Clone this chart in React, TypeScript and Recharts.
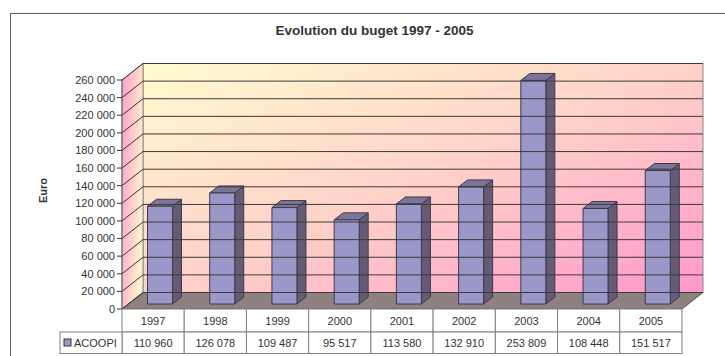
import React from 'react';
import { BarChart, Bar, XAxis, YAxis, ReferenceArea, ReferenceLine } from 'recharts';

const title = 'Evolution du buget 1997 - 2005';
const yLabel = 'Euro';
const seriesName = 'ACOOPI';
const years = ['1997', '1998', '1999', '2000', '2001', '2002', '2003', '2004', '2005'];
const acoopi = [110960, 126078, 109487, 95517, 113580, 132910, 253809, 108448, 151517];
const yTicks = [0, 20000, 40000, 60000, 80000, 100000, 120000, 140000, 160000, 180000, 200000, 220000, 240000, 260000];

const data = years.map((year, i) => ({ year, value: acoopi[i] }));

const W = 725;
const H = 356;
const LEFT = 122;
const RIGHT = 43;
const TOP = 80;
const XAXIS_H = 47;
const COL_W = (W - LEFT - RIGHT) / years.length;
const DEPTH_X = 21;
const DEPTH_Y = -16.5;
const BAR_OFF_X = 6.5;
const BAR_OFF_Y = -5;
const BAR_DX = 9;
const BAR_DY = -7;
const FONT = '"Liberation Sans", Arial, sans-serif';

const fmt = (v: number) => String(v).replace(/\B(?=(\d{3})+(?!\d))/g, ' ');

const Walls = (p: any) => {
  const { x, y, width, height } = p;
  const bx = x + DEPTH_X;
  const by = y + DEPTH_Y;
  return (
    <g>
      <defs>
        <linearGradient id="backGrad" x1="0" y1="0" x2="1" y2="1">
          <stop offset="0%" stopColor="#fffcd0" />
          <stop offset="50%" stopColor="#ffd2c8" />
          <stop offset="100%" stopColor="#ff98cc" />
        </linearGradient>
        <linearGradient id="leftGrad" x1="0" y1="0" x2="1" y2="0.4">
          <stop offset="0%" stopColor="#ff9ccc" />
          <stop offset="100%" stopColor="#fff0cc" />
        </linearGradient>
      </defs>
      <rect x={bx} y={by} width={width} height={height} fill="url(#backGrad)" stroke="#8a8a8a" strokeWidth={1} />
      <polygon
        points={`${x},${y} ${bx},${by} ${bx},${by + height} ${x},${y + height}`}
        fill="url(#leftGrad)"
        stroke="#8a8a8a"
        strokeWidth={1}
      />
      <polygon
        points={`${x},${y + height} ${x + width},${y + height} ${bx + width},${by + height} ${bx},${by + height}`}
        fill="#8e8180"
        stroke="#5a5a5a"
        strokeWidth={1}
      />
    </g>
  );
};

const GridLine3D = (p: any) => {
  const { x1, y1, x2 } = p;
  if (x1 == null || y1 == null) return null;
  const xl = Math.min(x1, x2);
  const xr = Math.max(x1, x2);
  return (
    <g>
      <line x1={xl} y1={y1} x2={xl + DEPTH_X} y2={y1 + DEPTH_Y} stroke="#333" strokeWidth={1} />
      <line x1={xl + DEPTH_X} y1={y1 + DEPTH_Y} x2={xr + DEPTH_X} y2={y1 + DEPTH_Y} stroke="#3a3a3a" strokeWidth={1} />
    </g>
  );
};

const Bar3D = (p: any) => {
  const { x, y, width, height } = p;
  if (height == null || isNaN(height)) return null;
  const fx = x + BAR_OFF_X;
  const fy = y + BAR_OFF_Y;
  const w = width;
  const h = height;
  return (
    <g stroke="#3b3b4a" strokeWidth={1} strokeLinejoin="round">
      <polygon
        points={`${fx + w},${fy} ${fx + w + BAR_DX},${fy + BAR_DY} ${fx + w + BAR_DX},${fy + h + BAR_DY} ${fx + w},${fy + h}`}
        fill="#665b77"
      />
      <polygon
        points={`${fx},${fy} ${fx + BAR_DX},${fy + BAR_DY} ${fx + w + BAR_DX},${fy + BAR_DY} ${fx + w},${fy}`}
        fill="#7d7599"
      />
      <rect x={fx} y={fy} width={w} height={h} fill="#9b97c9" />
    </g>
  );
};

const TableTick = (p: any) => {
  const { x, y, payload, index } = p;
  const left = x - COL_W / 2;
  const r1 = 23;
  const r2 = 21.5;
  const textStyle = { fontFamily: FONT, fontSize: 11, fill: '#333' };
  return (
    <g>
      <rect x={left} y={y} width={COL_W} height={r1} fill="#fff" stroke="#808080" strokeWidth={1} />
      <text x={x} y={y + r1 / 2 + 0.5} textAnchor="middle" dominantBaseline="central" style={textStyle}>
        {payload.value}
      </text>
      <rect x={left} y={y + r1} width={COL_W} height={r2} fill="#fff" stroke="#808080" strokeWidth={1} />
      <text x={x} y={y + r1 + r2 / 2 + 0.5} textAnchor="middle" dominantBaseline="central" style={textStyle}>
        {fmt(acoopi[index])}
      </text>
      {index === 0 && (
        <g>
          <rect x={left - 62} y={y + r1} width={62} height={r2} fill="#fff" stroke="#808080" strokeWidth={1} />
          <rect x={left - 58} y={y + r1 + 7} width={7} height={7} fill="#9b97c9" stroke="#333" strokeWidth={1} />
          <text x={left - 48} y={y + r1 + r2 / 2 + 0.5} dominantBaseline="central" style={textStyle}>
            {seriesName}
          </text>
        </g>
      )}
    </g>
  );
};

const EuroLabel = (p: any) => {
  const vb = p.viewBox || { y: TOP, height: 229 };
  const cy = vb.y + vb.height / 2 - 4;
  const cx = 43;
  return (
    <text
      x={cx}
      y={cy}
      transform={`rotate(-90 ${cx} ${cy})`}
      textAnchor="middle"
      dominantBaseline="central"
      style={{ fontFamily: FONT, fontSize: 11, fontWeight: 'bold', fill: '#333' }}
    >
      {yLabel}
    </text>
  );
};

export default function App() {
  return (
    <div style={{ position: 'absolute', left: 0, top: 0, width: W, height: H, overflow: 'hidden', background: '#fff' }}>
      <div
        style={{
          position: 'absolute',
          left: 10,
          top: 13,
          width: 800,
          height: 400,
          borderTop: '1.5px solid #5f5f5f',
          borderLeft: '1.5px solid #5f5f5f',
        }}
      />
      <div
        style={{
          position: 'absolute',
          left: 0,
          top: 23,
          width: 749,
          textAlign: 'center',
          fontFamily: FONT,
          fontWeight: 'bold',
          fontSize: 13.5,
          lineHeight: '16px',
          color: '#333',
        }}
      >
        {title}
      </div>
      <div style={{ position: 'absolute', left: 0, top: 0 }}>
        <BarChart width={W} height={H} data={data} margin={{ top: TOP, right: RIGHT, bottom: 0, left: 0 }} barSize={25}>
          <ReferenceArea y1={0} y2={260000} shape={<Walls />} ifOverflow="visible" />
          {yTicks.map((t) => (
            <ReferenceLine key={`rl-${t}`} y={t} shape={<GridLine3D />} ifOverflow="visible" />
          ))}
          <XAxis
            dataKey="year"
            axisLine={false}
            tickLine={false}
            tickSize={0}
            tickMargin={0}
            height={XAXIS_H}
            interval={0}
            tick={<TableTick />}
          />
          <YAxis
            width={LEFT}
            domain={[0, 260000]}
            ticks={yTicks}
            interval={0}
            tickFormatter={fmt}
            tickSize={5}
            tickMargin={2}
            axisLine={{ stroke: '#666' }}
            tickLine={{ stroke: '#333' }}
            tick={{ fontFamily: FONT, fontSize: 11, fill: '#333' }}
            label={<EuroLabel />}
          />
          <Bar dataKey="value" name={seriesName} fill="#9b97c9" shape={<Bar3D />} isAnimationActive={false} />
        </BarChart>
      </div>
    </div>
  );
}
